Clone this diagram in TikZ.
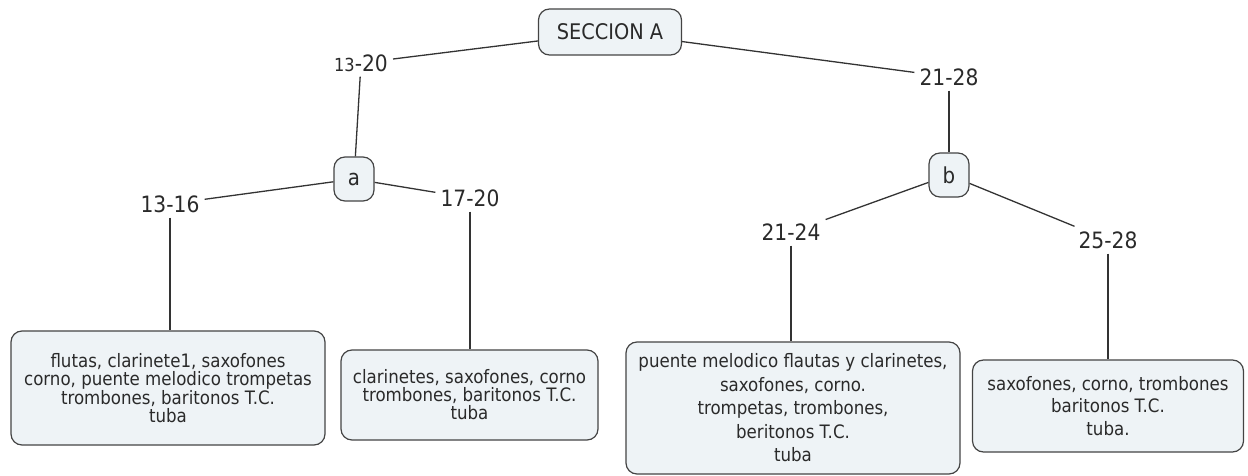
\documentclass[tikz,border=0pt]{standalone}
\usepackage{fontspec}
\setmainfont{DejaVu Sans Condensed}
\definecolor{boxfill}{HTML}{EEF3F6}
\definecolor{boxline}{HTML}{444444}
\definecolor{linkc}{HTML}{333333}
\definecolor{txt}{HTML}{2A2A2A}
\begin{document}
\begin{tikzpicture}[x=1pt,y=-1pt,
  concept/.style={draw=boxline,fill=boxfill,rounded corners=11pt,line width=1.2pt,
    align=center,inner sep=0pt,text=txt},
  lbl/.style={inner sep=5pt,text=txt,font=\fontsize{22.5}{26}\selectfont},
  link/.style={draw=linkc,line width=1.3pt}]
\useasboundingbox (0,0) rectangle (1248,476);
\node[concept,minimum width=143pt,minimum height=46pt,font=\fontsize{21.5}{24}\selectfont] (A) at (610,32) {SECCION A};
\node[concept,minimum width=40pt,minimum height=44pt,font=\fontsize{22}{24}\selectfont] (a) at (354,179) {a};
\node[concept,minimum width=40pt,minimum height=44pt,font=\fontsize{22}{24}\selectfont] (b) at (949,175) {b};
\node[lbl] (l1320) at (361,63) {{\fontsize{18}{20}\selectfont 13}-20};
\node[lbl] (l2128) at (949,77) {21-28};
\node[lbl] (l1316) at (170,204) {13-16};
\node[lbl] (l1720) at (470,198) {17-20};
\node[lbl] (l2124) at (791,232) {21-24};
\node[lbl] (l2528) at (1108,240) {25-28};
\node[concept,minimum width=314pt,minimum height=114pt,font=\fontsize{18.5}{18.5}\selectfont] (c1) at (168,388)
  {flutas, clarinete1, saxofones\\corno, puente melodico trompetas\\trombones, baritonos T.C.\\tuba};
\node[concept,minimum width=257pt,minimum height=90pt,font=\fontsize{18.5}{18}\selectfont] (c2) at (469.5,395)
  {clarinetes, saxofones, corno\\trombones, baritonos T.C.\\tuba};
\node[concept,minimum width=334pt,minimum height=132pt,font=\fontsize{18.5}{23.5}\selectfont] (c3) at (793,408)
  {puente melodico flautas y clarinetes,\\saxofones, corno.\\trompetas, trombones,\\beritonos T.C.\\tuba};
\node[concept,minimum width=271pt,minimum height=92pt,font=\fontsize{18.5}{22.5}\selectfont] (c4) at (1108,406)
  {saxofones, corno, trombones\\baritonos T.C.\\tuba.};
\draw[link] (A) -- (l1320);
\draw[link] (A) -- (l2128);
\draw[link] (l1320) -- (a);
\draw[link] (l2128) -- (b);
\draw[link] (a) -- (l1316);
\draw[link] (a) -- (l1720);
\draw[link] (b) -- (l2124);
\draw[link] (b) -- (l2528);
\draw[link] (l1316) -- (l1316|-c1.north);
\draw[link] (l1720) -- (l1720|-c2.north);
\draw[link] (l2124) -- (l2124|-c3.north);
\draw[link] (l2528) -- (l2528|-c4.north);
\end{tikzpicture}
\end{document}
